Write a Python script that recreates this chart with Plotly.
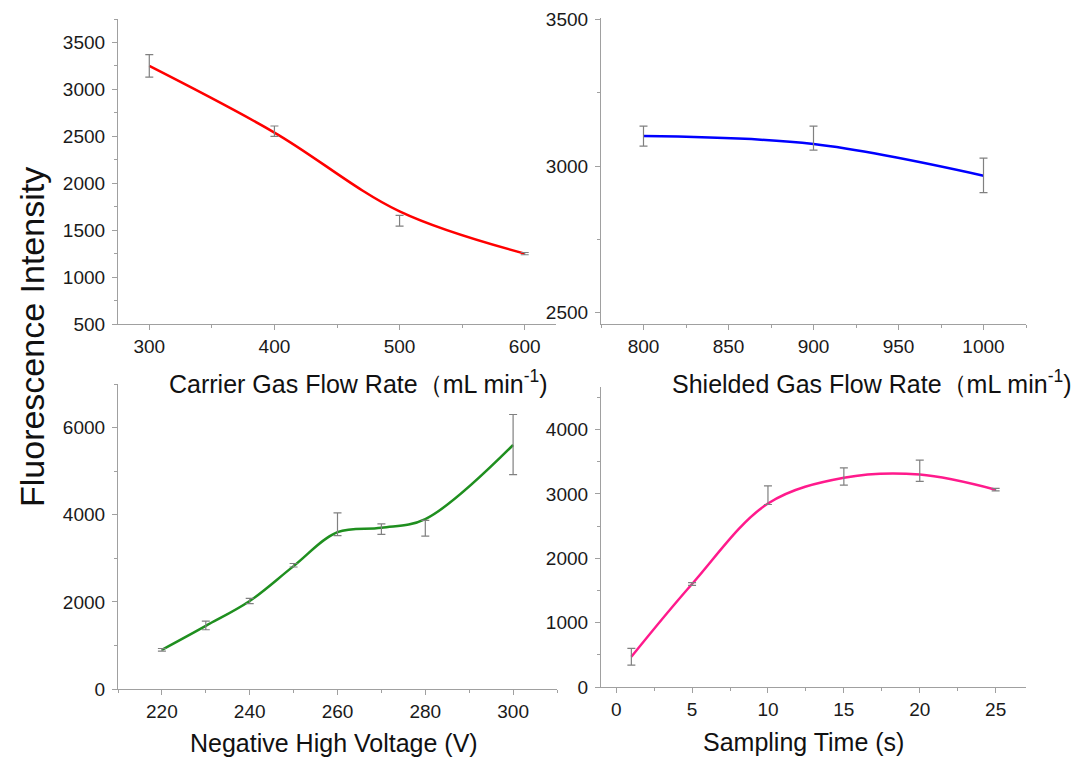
import plotly.graph_objects as go
from plotly.subplots import make_subplots

# ---- data ----
carrier_x = [300, 400, 500, 600]
carrier_y = [3250, 2555, 1600, 1250]
carrier_err = [120, 55, 57, 12]
carrier_fit = [3250, 2540, 1700, 1250]

shield_x = [800, 900, 1000]
shield_y = [3102, 3095, 2968]
shield_err = [34, 41, 59]
shield_fit = [3102, 3075, 2967]

voltage_x = [220, 230, 240, 250, 260, 270, 280, 300]
voltage_y = [900, 1460, 2020, 2840, 3780, 3670, 3690, 5610]
voltage_err = [30, 100, 60, 40, 260, 120, 180, 690]
voltage_fit = [900, 1450, 2020, 2820, 3600, 3700, 3900, 5600]

time_x = [1, 5, 10, 15, 20, 25]
time_y = [470, 1600, 2980, 3270, 3360, 3065]
time_err = [130, 20, 145, 135, 165, 20]
time_fit = [470, 1600, 2850, 3250, 3300, 3065]

x_titles = [
    "Carrier Gas Flow Rate\uff08mL min<sup>-1</sup>)",
    "Shielded Gas Flow Rate\uff08mL min<sup>-1</sup>)",
    "Negative High Voltage (V)",
    "Sampling Time (s)",
]
y_title = "Fluorescence Intensity"

panels = [
    (carrier_x, carrier_y, carrier_err, carrier_fit, "#ff0000", 1, 1),
    (shield_x, shield_y, shield_err, shield_fit, "#0000ff", 1, 2),
    (voltage_x, voltage_y, voltage_err, voltage_fit, "#1f8f1f", 2, 1),
    (time_x, time_y, time_err, time_fit, "#ff1a8c", 2, 2),
]

fig = make_subplots(rows=2, cols=2)

for xs, ys, errs, fit, color, r, c in panels:
    fig.add_trace(go.Scatter(
        x=xs, y=fit, mode="lines",
        line=dict(color=color, width=2.5, shape="spline", smoothing=1.0),
        showlegend=False, hoverinfo="skip"), row=r, col=c)
    fig.add_trace(go.Scatter(
        x=xs, y=ys, mode="markers",
        marker=dict(size=1, color="rgba(0,0,0,0)"),
        error_y=dict(type="data", array=errs, color="#808080", thickness=1.2, width=4),
        showlegend=False), row=r, col=c)

FONT = "Liberation Sans, Arial, sans-serif"
axcommon = dict(showline=True, linecolor="#a0a0a0", linewidth=1.2, ticks="outside",
                ticklen=5, tickwidth=1, tickcolor="#a0a0a0", showgrid=False,
                zeroline=False, automargin=False,
                tickfont=dict(family=FONT, size=19, color="#1a1a1a"))

W, H = 1080, 760
def fx(p):
    return p / W
def fy(p):
    return 1 - p / H

# domains (pixel based)
dom = {
    1: dict(x=[fx(118), fx(556)], y=[fy(324), fy(19)]),
    2: dict(x=[fx(601), fx(1026)], y=[fy(324), fy(18)]),
    3: dict(x=[fx(118), fx(557)], y=[fy(689), fy(384)]),
    4: dict(x=[fx(601), fx(1026)], y=[fy(687), fy(387)]),
}
xspec = {
    1: dict(range=[275, 625], tick0=300, dtick=100, minor=dict(dtick=50)),
    2: dict(range=[775, 1025], tick0=800, dtick=50, minor=dict(dtick=25)),
    3: dict(range=[210, 310], tick0=220, dtick=20, minor=dict(dtick=10)),
    4: dict(range=[-1, 27], tick0=0, dtick=5, minor=dict(dtick=2.5)),
}
yspec = {
    1: dict(range=[500, 3750], tick0=500, dtick=500, minor=dict(dtick=250)),
    2: dict(range=[2461, 3505], tick0=2500, dtick=500, minor=dict(dtick=250)),
    3: dict(range=[0, 7000], tick0=0, dtick=2000, minor=dict(dtick=1000)),
    4: dict(range=[0, 4660], tick0=0, dtick=1000, minor=dict(dtick=500)),
}
for i in range(1, 5):
    xn = "xaxis" if i == 1 else f"xaxis{i}"
    yn = "yaxis" if i == 1 else f"yaxis{i}"
    mx = dict(ticks="outside", ticklen=3, tickcolor="#a0a0a0", **xspec[i]["minor"])
    my = dict(ticks="outside", ticklen=3, tickcolor="#a0a0a0", **yspec[i]["minor"])
    xs = {k: v for k, v in xspec[i].items() if k != "minor"}
    ys = {k: v for k, v in yspec[i].items() if k != "minor"}
    fig.layout[xn].update(domain=dom[i]["x"], minor=mx, **xs, **axcommon)
    fig.layout[yn].update(domain=dom[i]["y"], minor=my, ticklabelstandoff=3, **ys, **axcommon)

title_pos = [(358, 382), (872, 382), (334, 743), (803, 742)]
for txt, (px, py) in zip(x_titles, title_pos):
    fig.add_annotation(text=txt, x=fx(px), y=fy(py), xref="paper", yref="paper",
                       xanchor="center", yanchor="middle", showarrow=False,
                       font=dict(family=FONT, size=25, color="#111111"))
fig.add_annotation(text=y_title, x=fx(32), y=fy(337), xref="paper", yref="paper",
                   xanchor="center", yanchor="middle", showarrow=False, textangle=-90,
                   font=dict(family=FONT, size=34, color="#111111"))

fig.update_layout(width=W, height=H, margin=dict(l=0, r=0, t=0, b=0, pad=0),
                  paper_bgcolor="white", plot_bgcolor="white", showlegend=False)

fig.write_html("out.html", config={"displayModeBar": False},
               post_script="document.body.style.margin='0px';")
